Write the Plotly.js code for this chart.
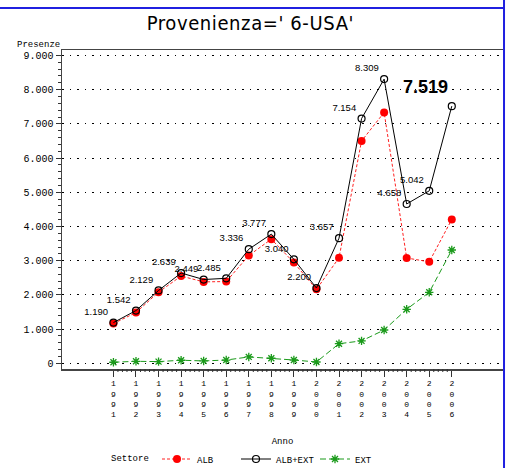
<!DOCTYPE html>
<html><head><meta charset="utf-8">
<script src="https://cdn.plot.ly/plotly-3.0.1.min.js"></script>
<style>body{margin:0;padding:0;background:#fff}#chart{width:512px;height:468px}
.gtitle{letter-spacing:0.6px}</style>
</head><body><div id="chart"></div>
<script>
const years   = [1991,1992,1993,1994,1995,1996,1997,1998,1999,2000,2001,2002,2003,2004,2005,2006];
const alb     = [1160,1484,2080,2550,2380,2390,3150,3630,2944,2162,3084,6500,7335,3079,2966,4206];
const albExt  = [1190,1542,2129,2639,2449,2485,3336,3777,3040,2200,3657,7154,8309,4658,5042,7519];
const ext     = [30,58,49,89,69,95,186,147,96,38,573,654,974,1579,2076,3313];
const yTickVals = [0,1000,2000,3000,4000,5000,6000,7000,8000,9000];
const yTickText = ['0','1.000','2.000','3.000','4.000','5.000','6.000','7.000','8.000','9.000'];
const seriesNames = ['ALB','ALB+EXT','EXT'];
const titleText = "Provenienza=' 6-USA'";
const yTitle = 'Presenze';
const xTitle = 'Anno';
const legendTitle = 'Settore';

const fmt = v => String(v).replace(/\B(?=(\d{3})+(?!\d))/g, '.');
const lastIdx = albExt.length - 1;
const pointLabels = albExt.map((v, i) => i === lastIdx ? '' : fmt(v));
const bigLabel = fmt(albExt[lastIdx]);
const xTickText = years.map(y => String(y).split('').join('<br>'));

const MONO = 'Liberation Mono, DejaVu Sans Mono, monospace';
const SANS = 'Liberation Sans, Arial, sans-serif';

const traces = [
  {x: years, y: ext, name: seriesNames[2], mode: 'lines+markers', legendrank: 3,
   line: {color: '#1a9a1a', width: 1, dash: '6px,3px'},
   marker: {symbol: 'asterisk-open', size: 7, line: {color: '#1a9a1a', width: 1.3}}},
  {x: years, y: alb, name: seriesNames[0], mode: 'lines+markers', legendrank: 1,
   line: {color: '#ff2020', width: 1, dash: '3px,2px'},
   marker: {symbol: 'circle', size: 8, color: '#ff0000'}},
  {x: years, y: albExt, name: seriesNames[1], mode: 'lines+markers+text', legendrank: 2,
   text: pointLabels, textposition: 'top left',
   textfont: {family: SANS, size: 9.5, color: '#000'},
   line: {color: '#000', width: 1},
   marker: {symbol: 'circle-open', size: 7, color: '#000', line: {width: 1.2, color: '#000'}}}
];

const shapes = [];
for (let i = 0; i < years.length - 1; i++) {
  for (let k = 1; k <= 4; k++) {
    const xv = years[i] + k / 5;
    shapes.push({type: 'line', xref: 'x', yref: 'paper', x0: xv, x1: xv, y0: 0, y1: -3 / 319,
      line: {color: '#333', width: 1}});
  }
}
shapes.push({type: 'line', xref: 'paper', yref: 'paper', x0: -0.145, x1: 1.0023, y0: 1.1317, y1: 1.1317,
  line: {color: '#2020e0', width: 2}});
shapes.push({type: 'line', xref: 'paper', yref: 'paper', x0: 1.0023, x1: 1.0023, y0: 1.17, y1: -0.32,
  line: {color: '#2020e0', width: 2}});

const layout = {
  width: 512, height: 468,
  margin: {l: 62, r: 9, t: 50, b: 99, autoexpand: false},
  paper_bgcolor: '#fff', plot_bgcolor: '#fff',
  showlegend: true,
  title: {text: titleText, xref: 'container', x: 0.489, xanchor: 'center',
          yref: 'container', y: 1 - 23 / 468, yanchor: 'middle',
          font: {family: 'Liberation Sans Narrow, DejaVu Sans Condensed, DejaVu Sans Mono, monospace', size: 20, color: '#000'}},
  xaxis: {range: [1988.72, 2008.27], tickmode: 'array', tickvals: years, ticktext: xTickText,
          ticks: 'outside', ticklen: 6, tickcolor: '#333', showgrid: false, zeroline: false,
          showline: true, linecolor: '#444', linewidth: 1.5, mirror: true, automargin: false,
          tickfont: {family: MONO, size: 8, color: '#000'}, tickangle: 0,
          title: {text: xTitle, standoff: 19, font: {family: MONO, size: 9, color: '#000'}}},
  yaxis: {range: [-167, 9160], tickmode: 'array', tickvals: yTickVals, ticktext: yTickText,
          ticks: 'outside', ticklen: 5, tickcolor: '#333', showline: true, linecolor: '#444', linewidth: 1.5,
          zeroline: false, showgrid: true, gridcolor: '#000', gridwidth: 1, griddash: '1.5px,6px', automargin: false,
          minor: {tickmode: 'linear', tick0: 0, dtick: 200, ticks: 'outside', ticklen: 3, tickcolor: '#333', showgrid: false},
          tickfont: {family: MONO, size: 10, color: '#000'}},
  legend: {orientation: 'h', x: (157 - 62) / 441, xanchor: 'left', y: (369 - 459) / 319, yanchor: 'middle',
           font: {family: MONO, size: 9, color: '#000'},
           entrywidth: 34, entrywidthmode: 'pixels', bgcolor: 'rgba(0,0,0,0)'},
  annotations: [
    {text: yTitle, xref: 'paper', yref: 'paper', x: -0.107, y: (369 - 45) / 319, xanchor: 'left', yanchor: 'middle',
     showarrow: false, font: {family: MONO, size: 9, color: '#000'}},
    {text: legendTitle, xref: 'paper', yref: 'paper', x: (109 - 62) / 441, y: (369 - 459) / 319, xanchor: 'left', yanchor: 'middle',
     showarrow: false, font: {family: MONO, size: 9, color: '#000'}},
    {text: '<b>' + bigLabel + '</b>', xref: 'x', yref: 'y', x: 2004.82, y: 8079, showarrow: false,
     font: {family: SANS, size: 18, color: '#000'}}
  ],
  shapes: shapes
};

Plotly.newPlot('chart', traces, layout, {displayModeBar: false, staticPlot: true});
</script>
</body></html>
